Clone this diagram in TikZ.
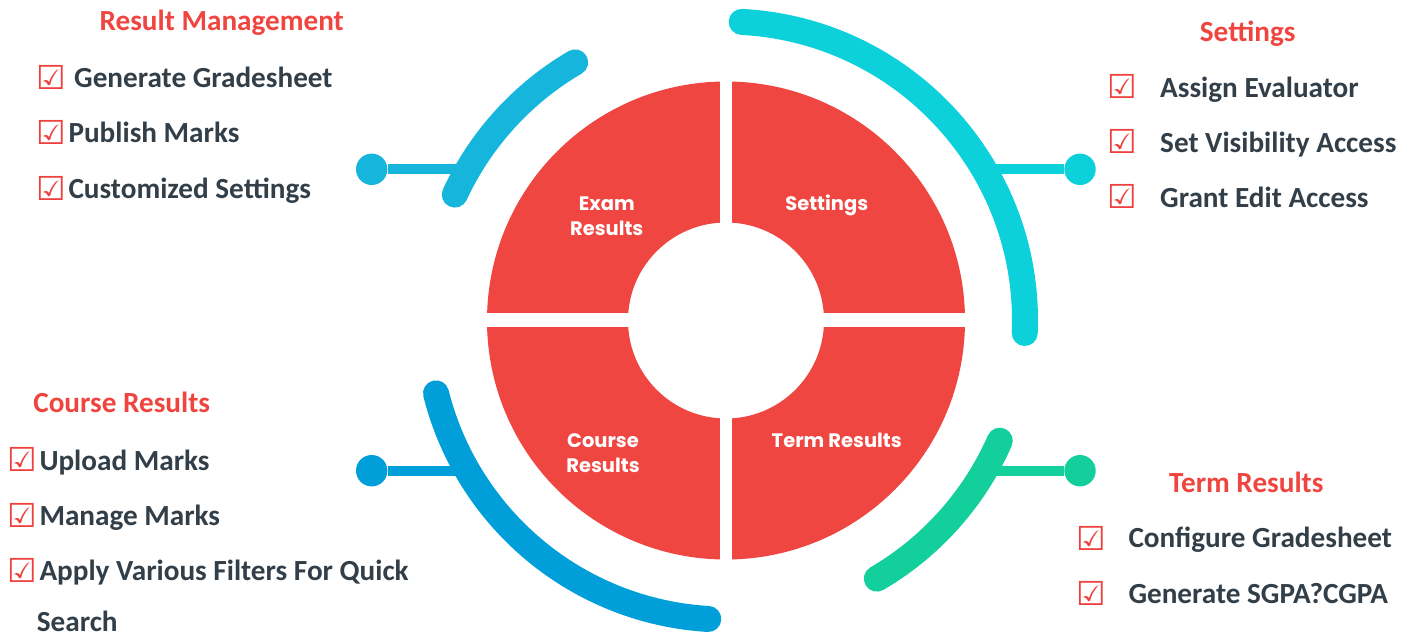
\documentclass[tikz,border=0pt]{standalone}
\usepackage{fontspec}
\setmainfont{Carlito}
\newfontfamily\symf{DejaVu Sans}
\newfontfamily\ctrf{Poppins}
\definecolor{ringred}{HTML}{EF4641}
\definecolor{headred}{HTML}{F0453F}
\definecolor{chkred}{HTML}{EE3F3A}
\definecolor{darktext}{HTML}{323E48}
\definecolor{tlblue}{HTML}{15B5DC}
\definecolor{trteal}{HTML}{0CD0DA}
\definecolor{blblue}{HTML}{009FD9}
\definecolor{brgreen}{HTML}{13CF9B}
\begin{document}
\begin{tikzpicture}[x=1pt,y=1pt,
  arcline/.style={line width=26pt, line cap=round},
  conn/.style={line width=10pt},
  dot/.style={circle, inner sep=0pt, minimum size=31.4pt},
  chk/.style={font=\symf\fontsize{33}{33}\selectfont, text=chkred, inner sep=0pt},
  item/.style={font=\bfseries\fontsize{29.2}{29.2}\selectfont, text=darktext, anchor=base west, inner sep=0pt},
  head/.style={font=\bfseries\fontsize{29.2}{29.2}\selectfont, text=headred, anchor=base, inner sep=0pt},
  seglabel/.style={font=\ctrf\bfseries\fontsize{19.5}{25}\selectfont, text=white, anchor=base, align=center, inner sep=0pt}]
\useasboundingbox (0,0) rectangle (1404,-637);
\coordinate (C) at (726,-320.5);
% ring
\fill[ringred, even odd rule] (C) circle[radius=239pt] (C) circle[radius=98pt];
\fill[white] (720,-75) rectangle (732,-566);
\fill[white] (480,-313) rectangle (972,-327);
% segment labels
\node[seglabel] (lexam) at (606.7,-235) {Exam\\Results};
\node[seglabel] (lset) at (826.7,-210) {Settings};
\node[seglabel] (lcourse) at (603,-472.5) {Course\\Results};
\node[seglabel] (lterm) at (836.7,-447.5) {Term Results};
% connectors
\node[dot, fill=tlblue] (d1) at (371.7,-169.3) {};
\coordinate (a1) at (468,-169.3);
\draw[conn, tlblue] (d1) -- (a1);
\node[dot, fill=trteal] (d2) at (1080,-169.3) {};
\coordinate (a2) at (984,-169.3);
\draw[conn, trteal] (d2) -- (a2);
\node[dot, fill=blblue] (d3) at (371.7,-470.7) {};
\coordinate (a3) at (467.5,-470.7);
\draw[conn, blblue] (d3) -- (a3);
\node[dot, fill=brgreen] (d4) at (1080,-470.7) {};
\coordinate (a4) at (984.5,-470.7);
\draw[conn, brgreen] (d4) -- (a4);
% arcs
\draw[arcline, tlblue] ([shift={(120.3:299pt)}]C) arc[start angle=120.3, end angle=155.1, radius=299pt];
\draw[arcline, trteal] ([shift={(87:299pt)}]C) arc[start angle=87, end angle=-2.4, radius=299pt];
\draw[arcline, blblue] ([shift={(194.1:299pt)}]C) arc[start angle=194.1, end angle=266.6, radius=299pt];
\draw[arcline, brgreen] ([shift={(-23.7:299pt)}]C) arc[start angle=-23.7, end angle=-59.7, radius=299pt];
% Result Management
\node[head] (h1) at (221.7,-30.7) {Result Management};
\node[chk] (c11) at (50.8,-77.8) {☑};
\node[item] (i11) at (74,-87.5) {Generate Gradesheet};
\node[chk] (c12) at (50.8,-132.7) {☑};
\node[item] (i12) at (68.3,-142.7) {Publish Marks};
\node[chk] (c13) at (50.8,-188) {☑};
\node[item] (i13) at (68.3,-198) {Customized Settings};
% Settings
\node[head] (h2) at (1247.7,-41.5) {Settings};
\node[chk] (c21) at (1122.3,-86.3) {☑};
\node[item] (i21) at (1160,-97) {Assign Evaluator};
\node[chk] (c22) at (1122.3,-141.3) {☑};
\node[item] (i22) at (1160,-152) {Set Visibility Access};
\node[chk] (c23) at (1122.3,-196.7) {☑};
\node[item] (i23) at (1160,-207) {Grant Edit Access};
% Course Results
\node[head] (h3) at (121.7,-412.3) {Course Results};
\node[chk] (c31) at (22.5,-459.7) {☑};
\node[item] (i31) at (39.3,-470) {Upload Marks};
\node[chk] (c32) at (22.5,-515) {☑};
\node[item] (i32) at (39.3,-525) {Manage Marks};
\node[chk] (c33) at (22.5,-570) {☑};
\node[item] (i33) at (39.3,-580) {Apply Various Filters For Quick};
\node[item] (i34) at (36.7,-631.5) {Search};
% Term Results
\node[head] (h4) at (1246.3,-492.3) {Term Results};
\node[chk] (c41) at (1091,-538) {☑};
\node[item] (i41) at (1128.3,-547) {Configure Gradesheet};
\node[chk] (c42) at (1091,-593) {☑};
\node[item] (i42) at (1128.3,-603) {Generate SGPA?CGPA};
\end{tikzpicture}
\end{document}
